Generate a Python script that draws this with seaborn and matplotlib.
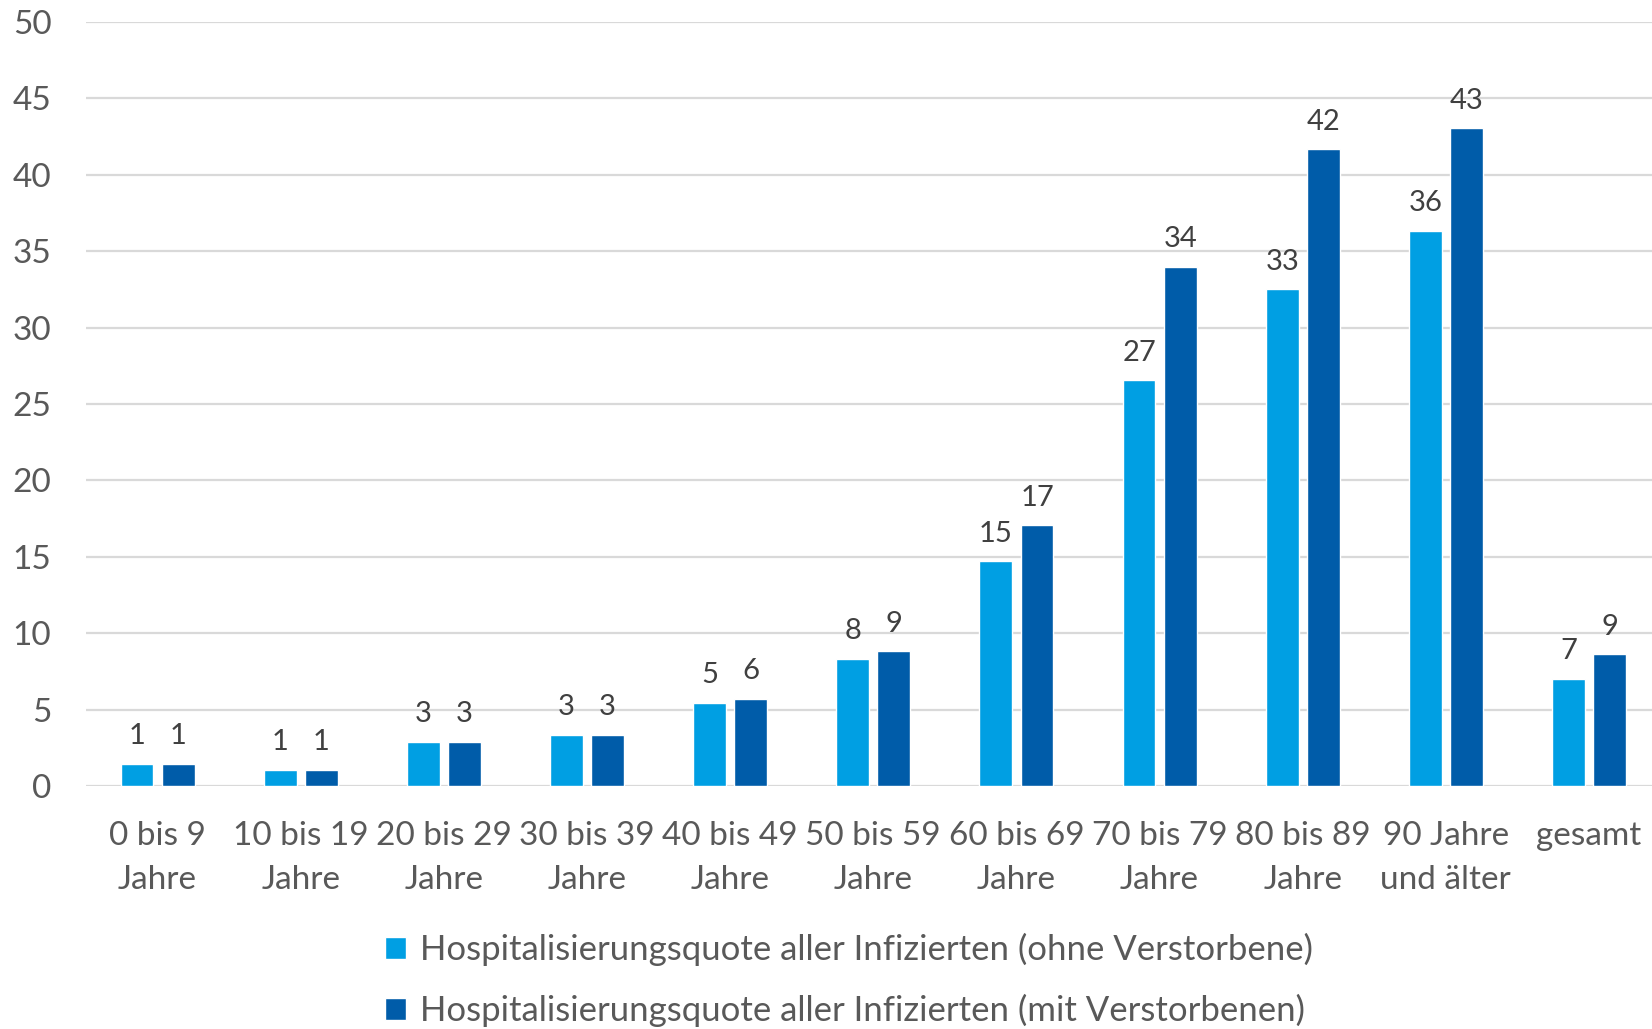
import matplotlib
matplotlib.use("Agg")
import matplotlib.pyplot as plt
import seaborn as sns
import pandas as pd

categories = ["0 bis 9\nJahre", "10 bis 19\nJahre", "20 bis 29\nJahre", "30 bis 39\nJahre",
              "40 bis 49\nJahre", "50 bis 59\nJahre", "60 bis 69\nJahre", "70 bis 79\nJahre",
              "80 bis 89\nJahre", "90 Jahre\nund älter", "gesamt"]
series_names = ["Hospitalisierungsquote aller Infizierten (ohne Verstorbene)",
                "Hospitalisierungsquote aller Infizierten (mit Verstorbenen)"]
values_ohne = [1.47, 1.07, 2.89, 3.37, 5.44, 8.33, 14.7, 26.55, 32.5, 36.35, 7.03]
values_mit = [1.47, 1.07, 2.89, 3.37, 5.72, 8.82, 17.05, 33.98, 41.67, 43.04, 8.62]
labels_ohne = ["1", "1", "3", "3", "5", "8", "15", "27", "33", "36", "7"]
labels_mit = ["1", "1", "3", "3", "6", "9", "17", "34", "42", "43", "9"]
yticks = [0, 5, 10, 15, 20, 25, 30, 35, 40, 45, 50]

colors = ["#009FE3", "#005CA9"]

df = pd.DataFrame({
    "Kategorie": categories * 2,
    "Serie": [series_names[0]] * len(categories) + [series_names[1]] * len(categories),
    "Wert": values_ohne + values_mit,
})

sns.set_theme(style="white")
plt.rcParams["font.family"] = ["Lato", "DejaVu Sans"]

fig = plt.figure(figsize=(16.52, 10.29), dpi=100)
ax = fig.add_axes([86 / 1652, 1 - 786 / 1029, 1 - 86 / 1652, (786 - 22) / 1029])

sns.barplot(data=df, x="Kategorie", y="Wert", hue="Serie", hue_order=series_names,
            palette=colors, width=0.575, gap=0.2, ax=ax, saturation=1, legend=True)

for cont, labs in zip(ax.containers, [labels_ohne, labels_mit]):
    ax.bar_label(cont, labels=labs, padding=10.5, fontsize=21, color="#404040")

ax.set_ylim(0, 50)
ax.set_xlim(-0.5, 10.44)
ax.set_yticks(yticks)
ax.set_yticklabels([str(t) for t in yticks], fontsize=24, color="#595959")
ax.tick_params(axis="y", length=0, pad=25)
ax.tick_params(axis="x", length=0, pad=25, labelsize=24, labelcolor="#595959")
for lab in ax.get_xticklabels():
    lab.set_linespacing(1.6)
ax.set_xlabel("")
ax.set_ylabel("")
ax.yaxis.grid(True, color="#D9D9D9", linewidth=1.6)
ax.set_axisbelow(True)
for sp in ax.spines.values():
    sp.set_visible(False)

handles, labels = ax.get_legend_handles_labels()
ax.get_legend().remove()
fig.legend(handles, labels, loc="center", bbox_to_anchor=(0.514, 1 - 980 / 1029),
           ncol=1, frameon=False, fontsize=25, labelcolor="#595959",
           handlelength=0.6, handleheight=0.6, handletextpad=0.4, labelspacing=0.8)

fig.savefig("out.png", dpi=100)
